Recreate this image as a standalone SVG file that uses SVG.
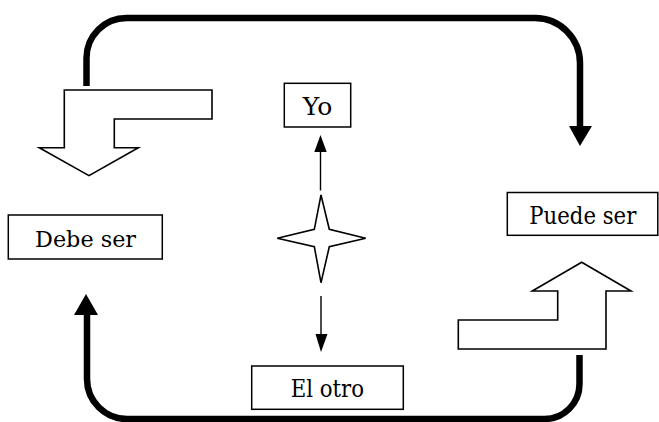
<svg xmlns="http://www.w3.org/2000/svg" width="659" height="422" viewBox="0 0 659 422">
<style>
.box{fill:#fff;stroke:#000;stroke-width:1.5}
.lbl{font-family:"DejaVu Serif","Liberation Serif",serif;fill:#000}
.loop{fill:none;stroke:#000;stroke-width:6.5}
.thin{fill:none;stroke:#000;stroke-width:1.4}
.big{fill:#fff;stroke:#000;stroke-width:1.6;stroke-linejoin:miter}
</style>
<rect width="659" height="422" fill="#fff"/>
<g id="connectors">
<path class="loop" d="M86.5,86 V58 A40,40 0 0 1 126.5,18 H535 A45,45 0 0 1 580,63 V128"/>
<polygon points="569,126 592,126 580,146" fill="#000"/>
<path class="loop" d="M579.5,355 V384 A35,35 0 0 1 544.5,419 H127 A40,40 0 0 1 87,379 V313"/>
<polygon points="74,315 98,315 86,294" fill="#000"/>
<line class="thin" x1="320.5" y1="190.5" x2="320.5" y2="151"/>
<polygon points="314.3,152 326.7,152 320.5,135" fill="#000"/>
<line class="thin" x1="321" y1="296" x2="321" y2="335"/>
<polygon points="315.5,334 327.5,334 321,352" fill="#000"/>
</g>
<g id="arrow-left">
<polygon class="big" points="64.3,90 212,90 212,119 114.3,119 114.3,147.7 138.3,147.7 89,175.7 39.3,147.7 64.3,147.7"/>
</g>
<g id="arrow-right">
<polygon class="big" points="581.7,262.3 631,291 606,291 606,349 458.3,349 458.3,320 557.7,320 557.7,291 532.3,291"/>
</g>
<g id="star">
<polygon class="big" points="321,195 329.3,229.3 365.7,238.3 329.3,246.7 321,282.7 314.3,246.7 277.3,238.3 314.3,229.3"/>
</g>
<g id="yo">
<rect class="box" x="284.3" y="83.3" width="66.4" height="43.7"/>
<text class="lbl" x="317.5" y="115" font-size="25" text-anchor="middle">Yo</text>
</g>
<g id="debe-ser">
<rect class="box" x="8.3" y="215" width="154" height="44"/>
<text class="lbl" x="35" y="246.5" font-size="23" textLength="101" lengthAdjust="spacingAndGlyphs">Debe ser</text>
</g>
<g id="puede-ser">
<rect class="box" x="507.3" y="192.5" width="150.5" height="42.8"/>
<text class="lbl" x="529.3" y="223.5" font-size="24" textLength="107" lengthAdjust="spacingAndGlyphs">Puede ser</text>
</g>
<g id="el-otro">
<rect class="box" x="251.7" y="366" width="151.6" height="43.3"/>
<text class="lbl" x="290.7" y="397.3" font-size="24" textLength="73.3" lengthAdjust="spacingAndGlyphs">El otro</text>
</g>
</svg>
